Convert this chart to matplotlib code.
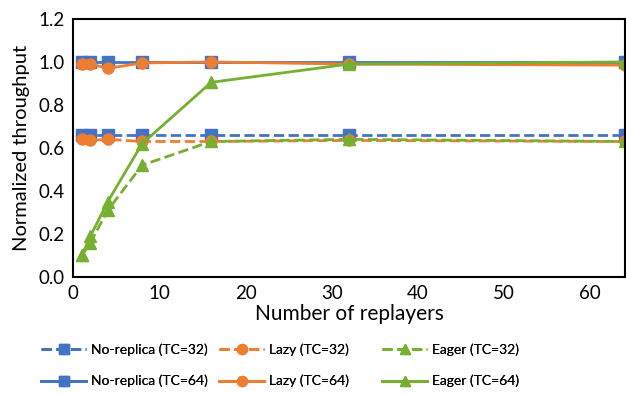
import matplotlib.pyplot as plt
from matplotlib.ticker import FormatStrFormatter

plt.rcParams['font.family'] = ['Lato', 'DejaVu Sans']

# data
replayers = [1, 2, 4, 8, 16, 32, 64]
norep_32 = [0.66, 0.66, 0.66, 0.66, 0.66, 0.66, 0.66]
lazy_32 = [0.64, 0.635, 0.64, 0.63, 0.63, 0.635, 0.63]
eager_32 = [0.10, 0.16, 0.31, 0.52, 0.63, 0.64, 0.63]
norep_64 = [1.0, 1.0, 1.0, 1.0, 1.0, 1.0, 1.0]
lazy_64 = [0.99, 0.99, 0.97, 0.995, 1.0, 0.99, 0.985]
eager_64 = [0.10, 0.19, 0.35, 0.62, 0.905, 0.99, 1.0]

blue = '#4472C4'
orange = '#ED7D31'
green = '#75B030'

fig = plt.figure(figsize=(6.26, 3.94), dpi=100)
ax = fig.add_axes([0.117, 0.297, 0.881, 0.655])

lw = 2
ms = 8
h1, = ax.plot(replayers, norep_32, '--', color=blue, marker='s', lw=lw, ms=ms, label='No-replica (TC=32)')
h2, = ax.plot(replayers, lazy_32, '--', color=orange, marker='o', lw=lw, ms=ms, label='Lazy (TC=32)')
h3, = ax.plot(replayers, eager_32, '--', color=green, marker='^', lw=lw, ms=ms, label='Eager (TC=32)')
h4, = ax.plot(replayers, norep_64, '-', color=blue, marker='s', lw=lw, ms=ms, label='No-replica (TC=64)')
h5, = ax.plot(replayers, lazy_64, '-', color=orange, marker='o', lw=lw, ms=ms, label='Lazy (TC=64)')
h6, = ax.plot(replayers, eager_64, '-', color=green, marker='^', lw=lw, ms=ms, label='Eager (TC=64)')

ax.set_xlim(0, 64)
ax.set_ylim(0, 1.2)
ax.set_xticks([0, 10, 20, 30, 40, 50, 60])
ax.set_yticks([0, 0.2, 0.4, 0.6, 0.8, 1.0, 1.2])
ax.yaxis.set_major_formatter(FormatStrFormatter('%.1f'))
ax.tick_params(length=0, labelsize=13.5, pad=6)
for s in ax.spines.values():
    s.set_linewidth(1.5)
ax.set_xlabel('Number of replayers', fontsize=15, labelpad=1)
ax.set_ylabel('Normalized throughput', fontsize=14.5, labelpad=6)

# one legend per column, placed like the reference
cols = [([h1, h4], 42), ([h2, h5], 220), ([h3, h6], 383)]
for hs, x0 in cols:
    leg = fig.legend(hs, [h.get_label() for h in hs], loc='upper left',
                     bbox_to_anchor=(x0 / 626 - 0.01, 1 - 338 / 394),
                     frameon=False, fontsize=10, handlelength=3.2,
                     labelspacing=1.35, handletextpad=0.4, borderaxespad=0,
                     markerscale=0.9)
    fig.add_artist(leg)

plt.savefig('out.png', dpi=100)
